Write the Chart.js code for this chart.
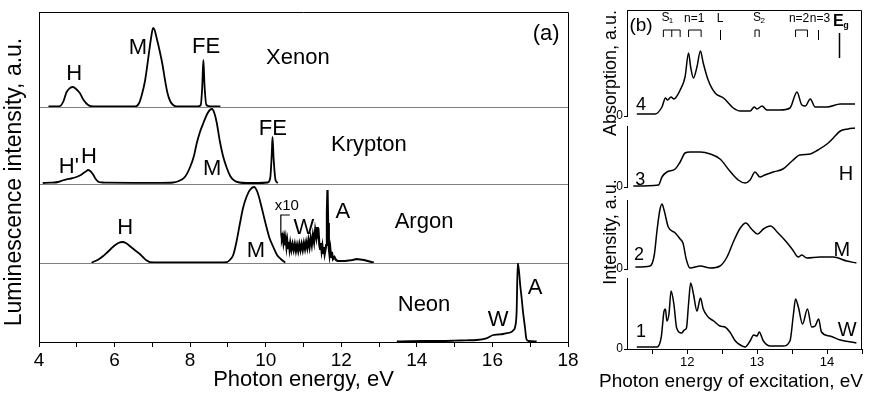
<!DOCTYPE html>
<html>
<head>
<meta charset="utf-8">
<script src="https://cdn.jsdelivr.net/npm/chart.js@4.4.1/dist/chart.umd.min.js"></script>
<style>
  html, body { margin: 0; padding: 0; background: #fff; overflow: hidden; }
  #wa { position: absolute; left: 0; top: 0; width: 590px; height: 393px; }
  #wb { position: absolute; left: 590px; top: 0; width: 282px; height: 393px; }
</style>
</head>
<body>
<div id="wa"><canvas id="chartA"></canvas></div>
<div id="wb"><canvas id="chartB"></canvas></div>
<script>
// ---- panel (a): luminescence, photon energy (eV) vs intensity (a.u.)
const xenonE = [4.25, 4.45, 4.56, 4.65, 4.73, 4.82, 4.9, 4.98, 5.08, 5.18, 5.3, 5.45, 6.0, 6.55, 6.65, 6.72, 6.8, 6.86, 6.92, 6.97, 7.02, 7.06, 7.12, 7.2, 7.27, 7.33, 7.4, 7.47, 7.55, 7.65, 8.2, 8.28, 8.32, 8.35, 8.38, 8.43, 8.55, 8.8];
const xenonI = [0.5, 0.5, 1, 6, 15, 19, 20, 18, 14, 7, 2, 0.5, 0.5, 0.5, 4, 12, 25, 40, 57, 70, 79, 77, 68, 55, 42, 28, 14, 6, 2, 0.5, 0.5, 2, 20, 47, 22, 2, 0.5, 0.5];

const kryptonE = [4.1, 4.3, 4.51, 4.62, 4.73, 4.85, 4.99, 5.08, 5.17, 5.24, 5.3, 5.37, 5.44, 5.5, 5.57, 5.68, 5.8, 6.5, 7.2, 7.55, 7.7, 7.86, 8.0, 8.1, 8.17, 8.26, 8.35, 8.45, 8.52, 8.58, 8.64, 8.7, 8.79, 8.87, 8.97, 9.06, 9.15, 9.3, 9.5, 9.8, 10.05, 10.12, 10.16, 10.18, 10.21, 10.26, 10.32];
const kryptonI = [1, 1.3, 2, 3.5, 4.7, 5.5, 7, 8.5, 10.7, 12.5, 14, 12.5, 9, 5, 2.3, 1.5, 1.3, 1.2, 1.2, 1.5, 3, 7, 17, 28, 40, 52, 61, 70, 74, 75, 71, 62, 42, 28, 16, 8, 4, 1.5, 1, 1, 1.5, 6, 30, 47, 25, 4, 1];

const argonE = [5.39, 5.55, 5.7, 5.79, 5.9, 6.0, 6.1, 6.21, 6.3, 6.4, 6.5, 6.6, 6.67, 6.75, 6.85, 6.94, 7.5, 8.5, 8.96, 9.05, 9.14, 9.22, 9.32, 9.4, 9.49, 9.58, 9.69, 9.78, 9.89, 9.96, 10.02, 10.1, 10.2, 10.3, 10.4, 10.48, 10.52];
const argonI = [0.5, 3, 7, 10, 14, 17.5, 20, 21, 20, 17, 14, 11, 9, 6, 2.5, 0.8, 0.5, 0.5, 0.8, 3, 8, 20, 40, 55, 66, 73, 76, 71, 56, 45, 36, 25, 16, 8, 4, 1.5, 0.5];

// argon, x10 part (W band and A line)
const argonWE = [10.41, 10.43, 10.45, 10.47, 10.49, 10.51, 10.53, 10.55, 10.57, 10.59, 10.61, 10.63, 10.65, 10.68, 10.71, 10.74, 10.77, 10.8, 10.83, 10.86, 10.89, 10.92, 10.95, 10.98, 11.01, 11.04, 11.07, 11.1, 11.13, 11.16, 11.19, 11.22, 11.25, 11.28, 11.31, 11.34, 11.36, 11.38, 11.4, 11.42, 11.44, 11.46, 11.48, 11.5, 11.52, 11.54, 11.56, 11.58, 11.6, 11.62, 11.635, 11.65, 11.67, 11.69, 11.71, 11.73, 11.75, 11.78, 11.82, 11.86, 11.9, 12.0, 12.1, 12.2, 12.3, 12.4, 12.5, 12.6, 12.7, 12.8, 12.86];
const argonWI = [30, 24, 27, 20, 25, 18, 24, 16, 22, 15, 21, 14, 20, 13, 19, 13, 19, 12, 18, 12, 19, 13, 19, 13, 20, 14, 21, 15, 23, 16, 25, 18, 28, 21, 33, 26, 36, 28, 30, 18, 14, 20, 12, 17, 10, 16, 9, 13, 18, 50, 73, 40, 15, 8, 14, 6, 11, 4, 6, 3, 2, 2, 2, 2.5, 3, 4, 3.5, 3, 2, 1, 0.5];

const neonE = [13.47, 13.8, 14.2, 14.6, 15.0, 15.3, 15.58, 15.84, 16.02, 16.15, 16.28, 16.4, 16.5, 16.56, 16.6, 16.64, 16.67, 16.7, 16.74, 16.77, 16.81, 16.86, 16.9, 16.95, 17.17];
const neonI = [0.5, 0.8, 1, 1, 1.3, 1.7, 2, 3.7, 7, 7.5, 8, 9, 10, 12, 15, 30, 79, 72, 55, 45, 30, 15, 3, 1, 0.5];

const ticksA = [4, 5, 6, 7, 8, 9, 10, 11, 12, 13, 14, 15, 16, 17, 18];
const tickLabelsA = [4, 6, 8, 10, 12, 14, 16, 18];

// ---- panel (b): excitation spectra, photon energy of excitation (eV)
const absE = [11.28, 11.54, 11.64, 11.69, 11.72, 11.77, 11.81, 11.9, 11.97, 12.02, 12.05, 12.09, 12.14, 12.19, 12.23, 12.3, 12.4, 12.52, 12.66, 12.76, 12.9, 12.96, 13.0, 13.07, 13.14, 13.33, 13.47, 13.57, 13.64, 13.69, 13.76, 13.83, 14.0, 14.19, 14.4];
const abs4 = [2, 2, 9, 18, 16, 19, 17, 26, 39, 63, 49, 38, 49, 65, 53, 36, 23, 18, 8, 5, 5, 9, 7, 10, 6, 6, 8, 24, 11, 10, 17, 9, 9, 12, 12];

const hE = [11.23, 11.59, 11.64, 11.71, 11.83, 11.9, 11.97, 12.04, 12.19, 12.33, 12.47, 12.61, 12.73, 12.83, 12.9, 12.97, 13.04, 13.11, 13.23, 13.37, 13.5, 13.61, 13.76, 13.87, 14.0, 14.09, 14.19, 14.3, 14.4];
const h3 = [1, 2, 10, 15, 18, 25, 34, 35, 35, 33, 28, 16, 7, 4, 7, 15, 10, 12, 15, 18, 26, 32, 33, 37, 43, 49, 56, 58, 59];

const mE = [11.26, 11.47, 11.53, 11.57, 11.61, 11.64, 11.67, 11.73, 11.83, 11.9, 11.94, 11.99, 12.04, 12.19, 12.33, 12.47, 12.57, 12.66, 12.76, 12.84, 12.92, 13.01, 13.09, 13.19, 13.3, 13.42, 13.51, 13.59, 13.64, 13.71, 13.9, 14.09, 14.28, 14.42];
const m2 = [2, 3, 14, 39, 59, 65, 59, 42, 36, 30, 26, 9, 1, 3, 1, 3, 12, 27, 41, 46, 40, 35, 40, 43, 36, 27, 19, 12, 14, 11, 12, 12, 8, 6];

const wE = [11.28, 11.57, 11.63, 11.67, 11.69, 11.71, 11.74, 11.77, 11.81, 11.85, 11.92, 11.96, 11.99, 12.02, 12.05, 12.09, 12.14, 12.19, 12.23, 12.3, 12.38, 12.47, 12.54, 12.61, 12.69, 12.76, 12.83, 12.9, 12.95, 13.0, 13.03, 13.09, 13.19, 13.37, 13.47, 13.52, 13.55, 13.59, 13.65, 13.72, 13.78, 13.83, 13.88, 13.92, 14.04, 14.19, 14.42];
const w1 = [2, 2, 12, 38, 40, 28, 35, 58, 45, 21, 16, 19, 21, 45, 66, 55, 38, 51, 40, 32, 28, 23, 22, 17, 8, 4, 2, 8, 14, 13, 17, 8, 3, 3, 8, 35, 50, 42, 25, 40, 22, 23, 30, 17, 13, 9, 6];

const ticksB = [11.5, 12, 12.5, 13, 13.5, 14, 14.5];
const tickLabelsB = [12, 13, 14];

// exciton markers above trace 4 (eV)
const markS1 = [11.66, 11.78, 11.9];
const markN1 = [12.02, 12.2];
const markL = 12.47;
const markS2 = [12.97, 13.03];
const markN2 = [13.55, 13.72];
const markN3 = 13.87;
const markEg = 14.17;

const FONT = '"Liberation Sans", Arial, sans-serif';
Chart.defaults.font.family = FONT;
Chart.defaults.color = '#000';
Chart.defaults.animation = false;

const pts = (xs, ys) => xs.map((x, i) => ({ x: x, y: ys[i] }));

function line(xs, ys, axis, width, mode) {
  return {
    data: pts(xs, ys), yAxisID: axis, borderColor: '#000', borderWidth: width,
    pointRadius: 0, fill: false,
    cubicInterpolationMode: mode === 'raw' ? 'default' : 'monotone', tension: 0
  };
}

function put(ctx, s, x, y, size, opts) {
  opts = opts || {};
  ctx.font = (opts.bold ? 'bold ' : '') + size + 'px ' + FONT;
  ctx.textAlign = opts.align || 'center';
  ctx.textBaseline = 'middle';
  ctx.fillStyle = '#000';
  ctx.fillText(s, x, y);
}

function vtitle(ctx, s, x, y, size) {
  ctx.save();
  ctx.translate(x, y);
  ctx.rotate(-Math.PI / 2);
  put(ctx, s, 0, 0, size);
  ctx.restore();
}

// ---------- chart (a)
const panelY = (weight, divider) => ({
  type: 'linear', position: 'left', stack: 'a', stackWeight: weight, min: 0, max: weight,
  border: { display: true, color: '#000', width: 1 },
  grid: { drawTicks: false, lineWidth: 1, color: c => (divider && c.tick && c.tick.value === 0) ? '#808080' : 'rgba(0,0,0,0)' },
  ticks: { display: false },
  afterBuildTicks: s => { s.ticks = [{ value: 0 }]; },
  afterFit: s => { s.width = 0; }
});

const labelsA = [
  ['H', 4.93, 33, 'yXe'], ['M', 6.62, 59, 'yXe'], ['FE', 8.42, 60, 'yXe'], ['Xenon', 10.85, 49, 'yXe'], ['(a)', 17.42, 73, 'yXe'],
  ["H'", 4.79, 17, 'yKr'], ['H', 5.32, 27, 'yKr'], ['M', 8.58, 15, 'yKr'], ['FE', 10.19, 55, 'yKr'], ['Krypton', 12.73, 39, 'yKr'],
  ['H', 6.28, 35, 'yAr'], ['M', 9.74, 12, 'yAr'], ['W', 11.01, 35, 'yAr'], ['A', 12.04, 51, 'yAr'], ['Argon', 14.19, 41, 'yAr'],
  ['Neon', 14.19, 37, 'yNe'], ['W', 16.15, 22, 'yNe'], ['A', 17.13, 54, 'yNe']
];

const decorA = {
  id: 'decorA',
  afterDraw(chart) {
    const { ctx, chartArea: a, scales } = chart;
    const x = scales.x;
    ctx.save();
    ctx.strokeStyle = '#000';
    ctx.lineWidth = 1;
    ctx.beginPath();
    ctx.moveTo(a.left, Math.round(a.top) + 0.5);
    ctx.lineTo(Math.round(a.right) + 0.5, Math.round(a.top) + 0.5);
    ctx.lineTo(Math.round(a.right) + 0.5, a.bottom);
    ctx.stroke();

    labelsA.forEach(l => put(ctx, l[0], x.getPixelForValue(l[1]), scales[l[3]].getPixelForValue(l[2]), 22));
    const ar = scales.yAr;
    put(ctx, 'x10', x.getPixelForValue(10.56), ar.getPixelForValue(57), 15);
    ctx.lineWidth = 1.2;
    ctx.beginPath();
    ctx.moveTo(x.getPixelForValue(10.4), ar.getPixelForValue(30));
    ctx.lineTo(x.getPixelForValue(10.4), ar.getPixelForValue(48));
    ctx.lineTo(x.getPixelForValue(10.64), ar.getPixelForValue(48));
    ctx.stroke();

    vtitle(ctx, 'Luminescence intensity, a.u.', 15, 182, 23);
    ctx.restore();
  }
};

new Chart(document.getElementById('chartA'), {
  type: 'line',
  data: {
    datasets: [
      line(xenonE, xenonI, 'yXe', 1.8),
      line(kryptonE, kryptonI, 'yKr', 1.8),
      line(argonE, argonI, 'yAr', 1.8),
      line(argonWE, argonWI, 'yAr', 2.2, 'raw'),
      line(neonE, neonI, 'yNe', 1.8)
    ]
  },
  options: {
    responsive: true,
    maintainAspectRatio: false,
    layout: { padding: { left: 39, top: 12, right: 22, bottom: 0 } },
    plugins: { legend: { display: false }, tooltip: { enabled: false } },
    scales: {
      x: {
        type: 'linear', position: 'bottom', min: 4, max: 18,
        afterBuildTicks: s => { s.ticks = ticksA.map(v => ({ value: v })); },
        ticks: { autoSkip: false, maxRotation: 0, padding: 2, font: { size: 19 },
                 callback: v => tickLabelsA.includes(v) ? String(v) : '' },
        grid: { drawOnChartArea: false, tickLength: 5, color: '#000' },
        border: { color: '#000' },
        title: { display: true, text: 'Photon energy, eV', font: { size: 22 }, padding: { top: 0, bottom: 0 } },
        afterFit: s => { s.height = 51; }
      },
      yNe: panelY(79, false),
      yAr: panelY(79, true),
      yKr: panelY(77, true),
      yXe: panelY(95, true)
    }
  },
  plugins: [decorA]
});

// ---------- chart (b)
const traceY = (weight) => ({
  type: 'linear', position: 'left', stack: 'b', stackWeight: weight, min: 0, max: weight,
  border: { display: true, color: '#000', width: 1 },
  grid: { drawOnChartArea: false, tickLength: 3, color: '#000' },
  ticks: { padding: 1, font: { size: 12 }, callback: v => String(v) },
  afterBuildTicks: s => { s.ticks = [{ value: 0 }]; },
  afterFit: s => { s.width = 12; }
});
const gapY = (weight) => ({
  type: 'linear', position: 'left', stack: 'b', stackWeight: weight, min: 0, max: 1,
  border: { display: false }, grid: { display: false }, ticks: { display: false },
  afterFit: s => { s.width = 12; }
});

const labelsB = [
  ['4', 11.34, 11, 'y4', 18], ['3', 11.33, 7, 'y3', 18], ['2', 11.31, 14, 'y2', 18], ['1', 11.34, 17, 'y1', 18],
  ['H', 14.27, 13, 'y3', 20], ['M', 14.21, 19, 'y2', 20], ['W', 14.29, 19, 'y1', 20]
];

const decorB = {
  id: 'decorB',
  afterDraw(chart) {
    const { ctx, chartArea: a, scales } = chart;
    const x = scales.x, y = scales.y4;
    const px = v => x.getPixelForValue(v);
    const py = v => y.getPixelForValue(v);
    ctx.save();
    ctx.strokeStyle = '#000';
    ctx.lineWidth = 1;
    ctx.beginPath();
    ctx.moveTo(a.left, Math.round(a.top) + 0.5);
    ctx.lineTo(Math.round(a.right) - 0.5, Math.round(a.top) + 0.5);
    ctx.lineTo(Math.round(a.right) - 0.5, a.bottom);
    ctx.stroke();

    labelsB.forEach(l => put(ctx, l[0], px(l[1]), scales[l[3]].getPixelForValue(l[2]), l[4]));

    // marker brackets
    const bracket = legs => {
      ctx.beginPath();
      ctx.moveTo(px(legs[0]), py(79));
      ctx.lineTo(px(legs[0]), py(86));
      ctx.lineTo(px(legs[legs.length - 1]), py(86));
      ctx.lineTo(px(legs[legs.length - 1]), py(79));
      for (let i = 1; i < legs.length - 1; i++) {
        ctx.moveTo(px(legs[i]), py(86));
        ctx.lineTo(px(legs[i]), py(79));
      }
      ctx.stroke();
    };
    const bar = (v, top, bottom) => {
      ctx.beginPath();
      ctx.moveTo(Math.round(px(v)) + 0.5, py(top));
      ctx.lineTo(Math.round(px(v)) + 0.5, py(bottom));
      ctx.stroke();
    };
    bracket(markS1);
    bracket(markN1);
    bracket(markS2);
    bracket(markN2);
    bar(markL, 86, 76);
    bar(markN3, 86, 76);
    ctx.lineWidth = 1.5;
    bar(markEg, 83, 58);

    put(ctx, '(b)', px(11.34), py(90), 19);
    put(ctx, 'S', px(11.69), py(98), 12);
    put(ctx, '1', px(11.77), py(95), 8);
    put(ctx, 'n=1', px(12.1), py(97), 12);
    put(ctx, 'L', px(12.47), py(97), 12);
    put(ctx, 'S', px(13.0), py(98), 12);
    put(ctx, '2', px(13.08), py(95), 8);
    put(ctx, 'n=2', px(13.6), py(97), 12);
    put(ctx, 'n=3', px(13.9), py(97), 12);
    put(ctx, 'E', px(14.16), py(94), 16, { bold: true });
    put(ctx, 'g', px(14.27), py(90), 9, { bold: true });

    vtitle(ctx, 'Absorption, a.u.', 21, 73, 18);
    vtitle(ctx, 'Intensity, a.u.', 21, 232, 18);
    put(ctx, 'Photon energy of excitation, eV', 141, 382, 19);
    ctx.restore();
  }
};

new Chart(document.getElementById('chartB'), {
  type: 'line',
  data: {
    datasets: [
      line(absE, abs4, 'y4', 1.5),
      line(hE, h3, 'y3', 1.5),
      line(mE, m2, 'y2', 1.5),
      line(wE, w1, 'y1', 1.5)
    ]
  },
  options: {
    responsive: true,
    maintainAspectRatio: false,
    layout: { padding: { left: 25, top: 10, right: 10, bottom: 0 } },
    plugins: { legend: { display: false }, tooltip: { enabled: false } },
    scales: {
      x: {
        type: 'linear', position: 'bottom', min: 11.14, max: 14.5,
        afterBuildTicks: s => { s.ticks = ticksB.map(v => ({ value: v })); },
        ticks: { autoSkip: false, maxRotation: 0, padding: 1, font: { size: 13 },
                 callback: v => tickLabelsB.includes(v) ? String(v) : '' },
        grid: { drawOnChartArea: false, tickLength: 5, color: '#000' },
        border: { color: '#000' },
        afterFit: s => { s.height = 44; }
      },
      y1: traceY(71),
      g3: gapY(9),
      y2: traceY(69),
      g2: gapY(13),
      y3: traceY(61),
      g1: gapY(10),
      y4: traceY(106)
    }
  },
  plugins: [decorB]
});
</script>
</body>
</html>
